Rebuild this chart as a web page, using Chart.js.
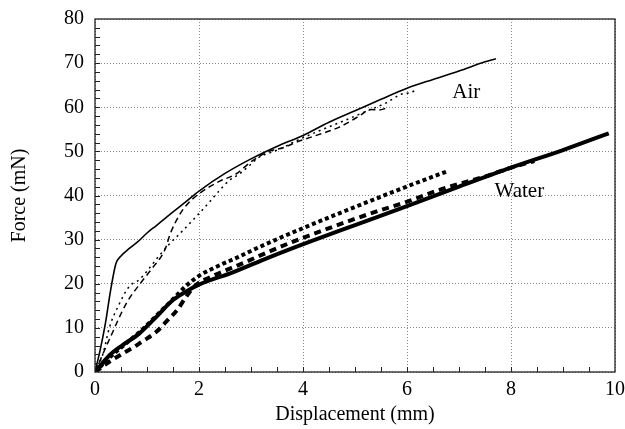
<!DOCTYPE html>
<html>
<head>
<meta charset="utf-8">
<script src="https://cdn.jsdelivr.net/npm/chart.js@4.4.0/dist/chart.umd.min.js"></script>
<style>
  html, body { margin: 0; padding: 0; background: #fff; }
  #wrap { width: 625px; height: 429px; }
</style>
</head>
<body>
<div id="wrap"><canvas id="chart" width="625" height="429"></canvas></div>
<script>
// Tick values
const xTicks = [0, 2, 4, 6, 8, 10];
const yTicks = [0, 10, 20, 30, 40, 50, 60, 70, 80];

// Curves: [displacement mm, force mN]
const airSolid = [[0,0],[0.1,5],[0.2,11],[0.3,18.5],[0.4,24.5],[0.5,26.3],[0.66,28],[0.85,29.8],[1.0,31.5],[1.18,33.2],[1.49,36.2],[1.75,38.6],[2,41],[2.5,45],[3,48.3],[3.55,51.4],[4,53.6],[4.5,56.6],[5,59.2],[5.5,61.8],[6,64.3],[6.5,66.3],[7,68.2],[7.5,70.3],[7.71,71]];
const airDashed = [[0,0],[0.3,8],[0.6,15.5],[0.9,20.5],[1.1,23.5],[1.34,27.6],[1.46,31.7],[1.62,35.5],[1.75,37.7],[2,40.4],[2.39,43.2],[2.7,44.8],[3.03,47.9],[3.35,50],[3.64,50.9],[3.9,52.2],[4.3,53.8],[4.7,55.5],[5.08,58],[5.3,59.5],[5.47,59.4],[5.6,59.8]];
const airDotted = [[0,0],[0.15,4],[0.28,10.2],[0.45,15],[0.66,19.4],[0.86,21],[1.01,23],[1.21,26],[1.43,29],[1.66,31.7],[1.88,34.4],[2.0,35.9],[2.2,38.5],[2.39,41.1],[2.58,43.4],[2.78,44.9],[2.97,46.8],[3.16,48.7],[3.35,49.6],[3.55,50.5],[3.87,52.4],[4.3,54.6],[4.8,57],[5.2,59],[5.6,61],[5.9,63],[6.05,63.3],[6.2,64]];
const waterSolid = [[0,0],[0.28,3.8],[0.53,6.1],[0.85,8.7],[1.18,12.5],[1.5,16.3],[1.82,18.7],[2.0,19.8],[2.65,22.6],[3.35,26],[4.12,29.5],[5,33.3],[6,37.6],[7,42],[8,46.3],[9,50.3],[9.88,54.1]];
const waterDashed = [[0,0],[0.3,2.5],[0.55,4.3],[0.73,5.5],[0.92,7],[1.18,9.1],[1.37,11.4],[1.59,14.2],[1.75,17],[1.95,19.8],[2.2,21.4],[2.87,24.8],[3.35,27.3],[3.8,29.5],[4.83,34],[5.47,36.6],[5.98,38.5],[6.68,41.5],[7.5,44.3],[8,46.3],[8.45,47.8]];
const waterDotted = [[0,0],[0.3,3.5],[0.6,6.5],[0.9,9.5],[1.2,13],[1.5,16.5],[1.75,19.5],[2,21.8],[2.4,24.2],[2.71,25.8],[3.1,28],[3.54,30.3],[4.06,32.9],[4.83,36.6],[5.47,39.6],[6.1,42.5],[6.8,45.6]];

// Text labels placed in data units
const curveLabels = [
    { text: 'Air', x: 7.14, y: 63.4 },
    { text: 'Water', x: 8.16, y: 40.9 }
];

const serif = "'Liberation Serif', 'DejaVu Serif', serif";
const toXY = pts => pts.map(p => ({ x: p[0], y: p[1] }));

const line = (data, width, dash) => ({
    data: toXY(data),
    borderColor: '#000',
    borderWidth: width,
    borderDash: dash,
    borderCapStyle: 'butt',
    pointRadius: 0,
    fill: false,
    cubicInterpolationMode: 'monotone'
});

// Frame, inward ticks and curve labels
const decorPlugin = {
    id: 'decor',
    afterDraw(chart) {
        const { ctx, chartArea: a, scales: { x, y } } = chart;
        ctx.save();
        ctx.strokeStyle = '#222';
        ctx.lineWidth = 1;
        ctx.beginPath();
        for (let v = 0.5; v < 10; v += 0.5) {
            const px = Math.round(x.getPixelForValue(v)) + 0.5;
            ctx.moveTo(px, a.bottom);
            ctx.lineTo(px, a.bottom - 5);
        }
        for (let v = 2; v < 80; v += 2) {
            const py = Math.round(y.getPixelForValue(v)) + 0.5;
            ctx.moveTo(a.left, py);
            ctx.lineTo(a.left + 5, py);
        }
        ctx.stroke();
        ctx.lineWidth = 1.3;
        ctx.strokeRect(a.left, a.top, a.right - a.left, a.bottom - a.top);

        ctx.fillStyle = '#000';
        ctx.font = '21px ' + serif;
        ctx.textAlign = 'center';
        ctx.textBaseline = 'middle';
        curveLabels.forEach(l => {
            ctx.fillText(l.text, x.getPixelForValue(l.x), y.getPixelForValue(l.y));
        });
        ctx.restore();
    }
};

new Chart(document.getElementById('chart'), {
    type: 'line',
    data: {
        datasets: [
            line(airSolid, 1.6, []),
            line(airDashed, 1.5, [6, 4]),
            line(airDotted, 1.5, [2, 4]),
            line(waterSolid, 4, []),
            line(waterDashed, 4, [7, 5]),
            line(waterDotted, 4, [4, 3])
        ]
    },
    options: {
        responsive: false,
        animation: false,
        devicePixelRatio: 1,
        layout: { padding: { top: 19, right: 10, left: 0, bottom: 0 } },
        plugins: { legend: { display: false }, tooltip: { enabled: false } },
        scales: {
            x: {
                type: 'linear',
                min: 0,
                max: 10,
                afterBuildTicks: s => { s.ticks = xTicks.map(v => ({ value: v })); },
                afterFit: s => { s.height = 57; s.paddingLeft = 0; s.paddingRight = 0; },
                grid: { color: '#888', drawTicks: false },
                border: { display: false, dash: [1, 2] },
                ticks: { color: '#000', padding: 6, font: { family: serif, size: 20 } },
                title: { display: true, text: 'Displacement (mm)', color: '#000', padding: { top: 0, bottom: 2 }, font: { family: serif, size: 20 } }
            },
            y: {
                type: 'linear',
                min: 0,
                max: 80,
                afterBuildTicks: s => { s.ticks = yTicks.map(v => ({ value: v })); },
                afterFit: s => { s.width = 95; s.paddingTop = 0; s.paddingBottom = 0; },
                grid: { color: '#888', drawTicks: false },
                border: { display: false, dash: [1, 2] },
                ticks: { color: '#000', padding: 11, font: { family: serif, size: 20 } },
                title: { display: true, text: 'Force (mN)', color: '#000', padding: { top: 8, bottom: 0 }, font: { family: serif, size: 20 } }
            }
        }
    },
    plugins: [decorPlugin]
});
</script>
</body>
</html>
